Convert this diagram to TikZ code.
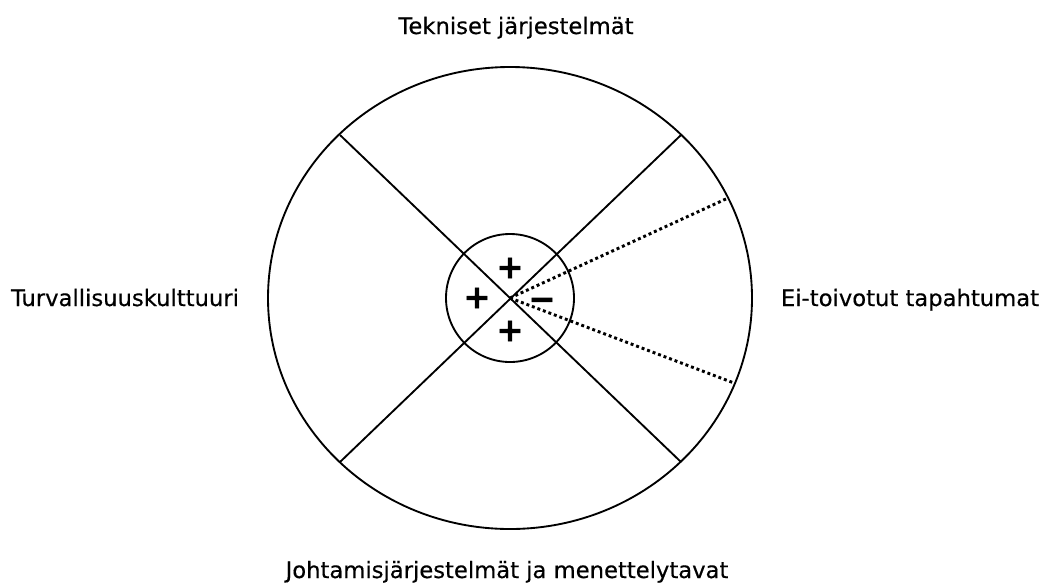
\documentclass[tikz,border=0pt]{standalone}
\usepackage{fontspec}
\setmainfont{DejaVu Sans}[FakeBold=0.4]
\newfontfamily\signfont{DejaVu Sans Bold}[FakeBold=2.2]
\begin{document}
\begin{tikzpicture}[x=0.75pt, y=-0.75pt,
  label/.style={anchor=base, inner sep=0pt, font=\fontsize{17}{20}\selectfont},
  sign/.style={inner sep=0pt, font=\signfont\fontsize{24}{24}\selectfont},
  ring/.style={draw, line width=1.4pt},
  spoke/.style={line width=1.4pt},
  dots/.style={line width=2.2pt, dash pattern=on 2.2pt off 2.2pt}]
\useasboundingbox (0,0) rectangle (1049,583);

\draw[ring] (510,298) ellipse [x radius=242, y radius=231];
\node[ring, circle, minimum size=96pt, inner sep=0pt] (hub) at (510,298) {};
\coordinate (c) at (510,298);

\coordinate (ul) at (340,135);
\coordinate (ur) at (681,135);
\coordinate (ll) at (340,462);
\coordinate (lr) at (681,462);
\coordinate (d1) at (728,198);
\coordinate (d2) at (734,383);

\draw[spoke] (ul) -- (lr);
\draw[spoke] (ll) -- (ur);
\draw[dots] (c) -- (d1);
\draw[dots] (c) -- (d2);

\node[sign] (p1) at (510,268) {+};
\node[sign] (p2) at (477,298) {+};
\node[sign] (p3) at (510,331) {+};
\node[sign] (m1) at (542,304) {−};

\node[label] (tek) at (516,34) {Tekniset järjestelmät};
\node[label] (tur) at (125,306) {Turvallisuuskulttuuri};
\node[label] (eit) at (910,306) {Ei-toivotut tapahtumat};
\node[label] (joh) at (507,578) {Johtamisjärjestelmät ja menettelytavat};
\end{tikzpicture}
\end{document}
